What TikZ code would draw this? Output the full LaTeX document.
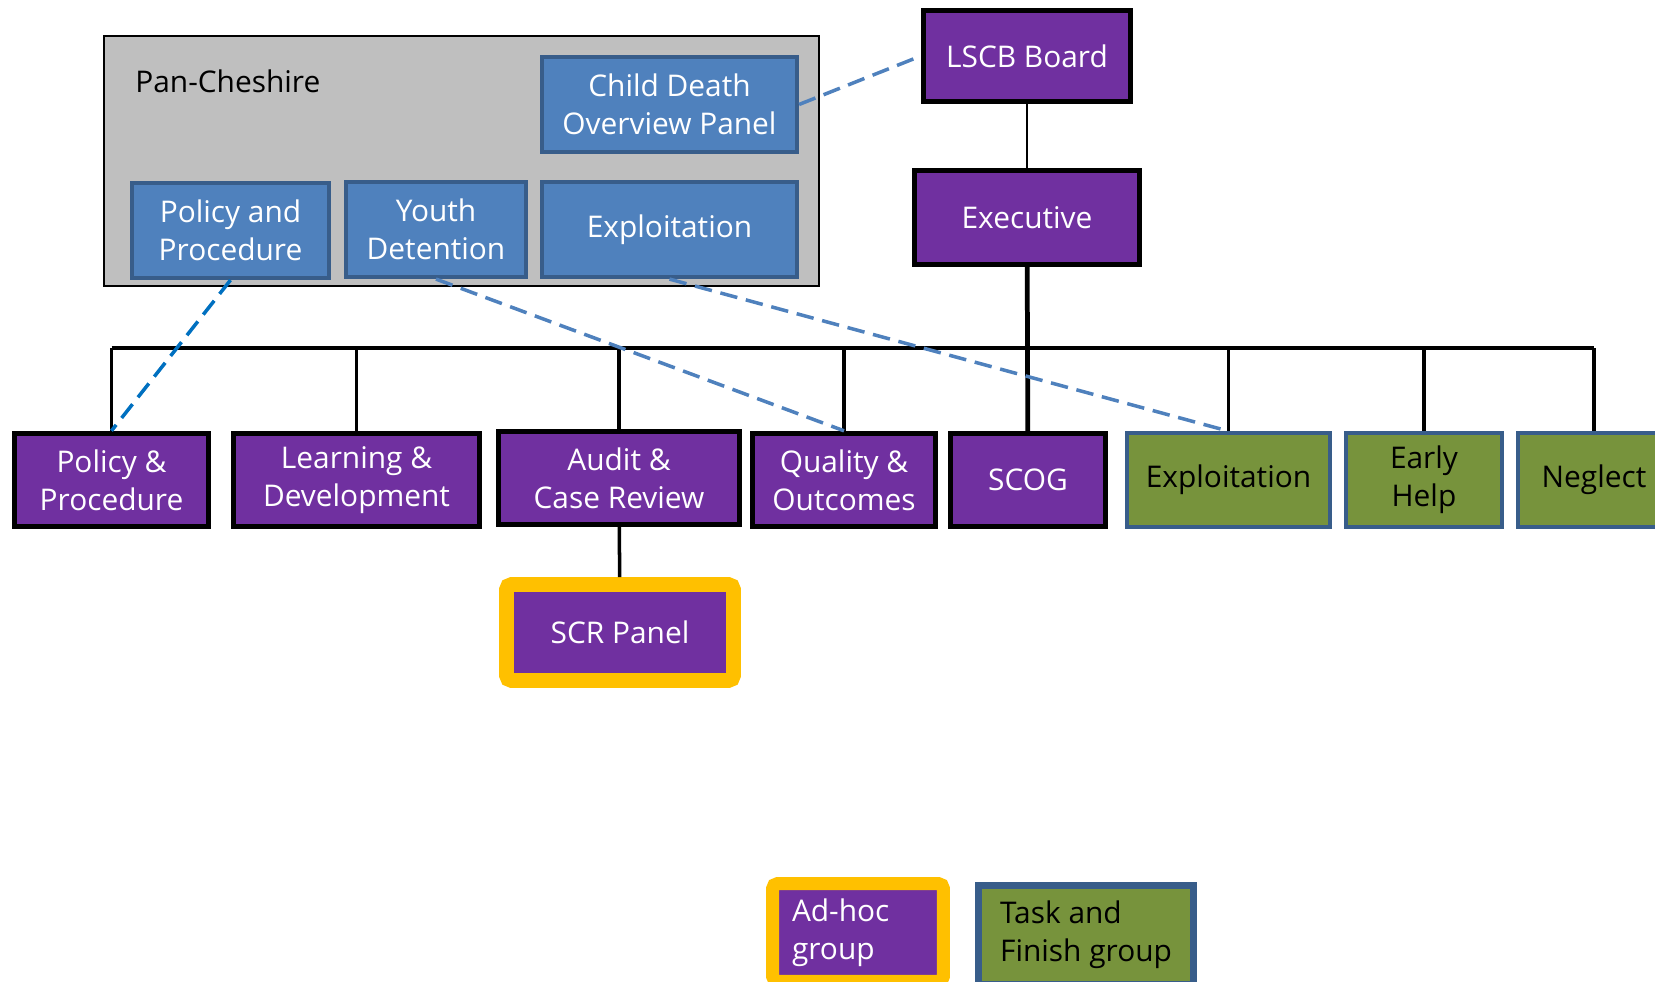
\documentclass[tikz,border=0pt]{standalone}
\usepackage{fontspec}
\setmainfont{Open Sans}
\usetikzlibrary{positioning}
\definecolor{lscbpurple}{HTML}{7030A0}
\definecolor{panblue}{HTML}{4F81BD}
\definecolor{panedge}{HTML}{385D8A}
\definecolor{panfill}{HTML}{BFBFBF}
\definecolor{tfgreen}{HTML}{77933C}
\definecolor{adhocyellow}{HTML}{FFC000}
\definecolor{linkblue}{HTML}{4F81BD}
\definecolor{ppblue}{HTML}{0070C0}
\newcommand{\boxfont}{\fontsize{17}{21.5}\selectfont}
\tikzset{
  groupbox/.style={rectangle, fill=lscbpurple, draw=black, line width=2.8pt, text=white,
    align=center, minimum height=1.87cm, inner sep=1pt, font=\boxfont},
  panbox/.style={rectangle, fill=panblue, draw=panedge, line width=2.4pt, text=white,
    align=center, minimum height=1.9cm, inner sep=1pt, font=\boxfont},
  taskbox/.style={rectangle, fill=tfgreen, draw=panedge, line width=2.4pt, text=black,
    align=center, minimum height=1.87cm, inner sep=1pt, font=\boxfont},
  adhocbox/.style={groupbox, draw=adhocyellow, line width=8.5pt, rounded corners=3pt},
  panframe/.style={rectangle, fill=panfill, draw=black, line width=1.3pt},
  busline/.style={draw=black, line width=2.7pt},
  dropline/.style={draw=black, line width=2pt},
  link/.style={draw=linkblue, line width=2pt, dash pattern=on 10pt off 5pt},
}
\begin{document}
\begin{tikzpicture}[x=0.02cm, y=-0.02cm]
	\useasboundingbox (0,0) rectangle (1655,982);
	\node (pan) [panframe, minimum width=14.3cm, minimum height=5cm] at (461.5,161) {};
	\node (pclabel) [anchor=west, inner sep=0pt, font=\boxfont] at (135,81) {Pan-Cheshire};
	\node (cdop) [panbox, minimum width=5.1cm] at (669.5,104.5) {Child Death\\Overview Panel};
	\node (panpp) [panbox, minimum width=3.94cm] at (230.5,230.5) {Policy and\\Procedure};
	\node (youth) [panbox, minimum width=3.6cm] at (436,229.5) {Youth\\Detention};
	\node (panexp) [panbox, minimum width=5.1cm] at (669.5,229.5) {Exploitation};
	
	\node (lscb) [groupbox, minimum width=4.15cm, minimum height=1.83cm] at (1027,56) {LSCB Board};
	\node (exec) [groupbox, minimum width=4.51cm, below=1.28cm of lscb] {Executive};
	
	\node (pp) [groupbox, minimum width=3.89cm] at (111.5,480) {Policy \&\\Procedure};
	\node (ld) [groupbox, minimum width=4.93cm] at (356.5,480) {Learning \&\\Development};
	\node (acr) [groupbox, minimum width=4.83cm] at (619,478) {Audit \&\\Case Review};
	\node (qo) [groupbox, minimum width=3.67cm] at (844,480) {Quality \&\\Outcomes};
	\node (scog) [groupbox, minimum width=3.11cm] at (1028,480) {SCOG};
	\node (expl) [taskbox, minimum width=4.06cm] at (1228.5,480) {Exploitation};
	\node (early) [taskbox, minimum width=3.12cm] at (1424,480) {Early\\Help};
	\node (neglect) [taskbox, minimum width=3.04cm] at (1594,480) {Neglect};
	\node (scr) [adhocbox, minimum width=4.54cm, minimum height=1.92cm] at (620,632.5) {SCR Panel};
	
	\node (adhockey) [adhocbox, line width=7.4pt, minimum width=3.42cm, minimum height=1.96cm,
		text width=2.64cm, inner xsep=0.39cm, align=left] at (858,932.5) {Ad-hoc\\group};
	\node (taskkey) [taskbox, line width=4pt, minimum width=4.3cm, minimum height=1.98cm,
		align=left] at (1086,935) {Task and\\Finish group};
	
	% Lines
	\coordinate (bus) at (0,348);
	\draw[busline] (pp.north |- bus) -- (neglect.north |- bus);
	\foreach \b in {pp,ld,acr,qo,expl,early,neglect}
		\draw[dropline] (\b.north) -- (\b.north |- bus);
	\draw[dropline, line width=1.6pt] (lscb) -- (exec);
	\draw[busline] (exec) -- (scog);
	\draw[dropline] (acr) -- (scr);
	
	% Dashed links
	\draw[link] (cdop.east) -- (lscb.west);
	\draw[link, draw=ppblue] (panpp.south) -- (pp.north);
	\draw[link] (youth.south) -- (qo.north);
	\draw[link] (panexp.south) -- (expl.north);
\end{tikzpicture}
\end{document}
